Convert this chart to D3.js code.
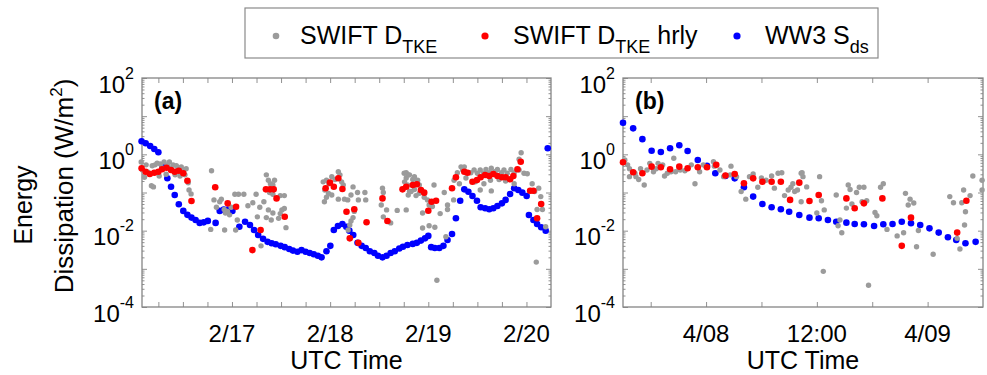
<!DOCTYPE html>
<html><head><meta charset="utf-8">
<script src="https://cdn.jsdelivr.net/npm/d3@7"></script>
<style>
body{margin:0;background:#fff}
svg{display:block}
text{font-family:"Liberation Sans",Arial,Helvetica,sans-serif;fill:#000}
</style>
</head><body>
<svg id="chart" width="987" height="375"></svg>
<script>
// ---------- DATA (hours since start-of-day of first date, value in W/m^2) ----------
// Panel (a): hours since 2/16 00:00 UTC
const aWW3 = [[1.9,2.2],[2.9,1.95],[4.0,1.65],[5.0,1.38],[6.0,1.13],[7.0,0.5],[8.2,0.236],[9.1,0.142],[10.0,0.086],[11.0,0.049],[12.1,0.033],[13.1,0.026],[14.1,0.022],[15.1,0.019],[16.1,0.016],[17.1,0.0165],[18.1,0.018],[20.0,0.016],[21.0,0.033],[22.0,0.036],[23.0,0.036],[24.1,0.033],[25.8,0.0127],[27.2,0.0172],[28.4,0.0141],[29.4,0.0104],[30.4,0.0077],[31.6,0.0061],[32.7,0.0051],[33.7,0.0047],[34.7,0.0044],[35.9,0.0040],[36.9,0.0037],[38.0,0.0033],[38.9,0.0030],[40.0,0.0028],[41.0,0.0031],[42.0,0.0028],[43.0,0.0026],[44.0,0.0024],[45.0,0.0022],[45.9,0.0020],[47.1,0.0029],[48.05,0.0040],[48.9,0.0104],[49.9,0.0133],[51.0,0.0150],[51.95,0.0127],[52.7,0.0100],[53.65,0.0077],[54.7,0.0048],[55.7,0.0040],[56.7,0.0035],[57.7,0.0029],[58.8,0.0026],[59.7,0.0022],[60.8,0.0020],[61.8,0.0022],[62.8,0.0026],[63.8,0.0029],[64.9,0.0034],[65.8,0.0038],[66.9,0.0042],[68.2,0.0045],[69.2,0.0048],[70.2,0.0055],[71.2,0.0063],[72.0,0.0073],[72.7,0.0037],[73.6,0.0035],[74.7,0.0035],[75.7,0.0040],[76.7,0.0057],[77.8,0.0082],[78.75,0.0211],[79.8,0.061],[80.8,0.121],[81.8,0.105],[82.8,0.081],[83.9,0.061],[84.8,0.041],[85.9,0.0386],[86.9,0.0363],[87.9,0.0386],[88.9,0.0443],[90.0,0.052],[90.9,0.064],[92.0,0.091],[93.0,0.129],[94.0,0.116],[95.0,0.099],[96.05,0.081],[96.6,0.0258],[97.7,0.0191],[98.6,0.0150],[99.6,0.0123],[100.7,0.0100],[101.2,1.44]];
const aHourly = [[1.9,0.43],[2.9,0.35],[3.9,0.305],[5.0,0.33],[6.0,0.35],[6.9,0.405],[8.0,0.447],[9.1,0.39],[10.0,0.35],[11.0,0.372],[12.1,0.318],[13.1,0.204],[14.1,0.060],[19.9,0.137],[22.95,0.052],[25.0,0.0425],[29.0,0.0031],[31.0,0.0104],[32.3,0.121],[33.3,0.121],[34.2,0.121],[34.9,0.070],[36.9,0.0232],[46.9,0.129],[47.95,0.181],[48.9,0.142],[50.0,0.236],[51.0,0.124],[52.0,0.0314],[52.8,0.0063],[53.9,0.0363],[54.9,0.0048],[56.9,0.0166],[60.8,0.070],[62.0,0.0179],[65.7,0.121],[66.6,0.142],[68.2,0.157],[69.2,0.164],[70.2,0.116],[71.0,0.099],[72.0,0.0333],[72.8,0.057],[73.9,0.061],[77.8,0.129],[78.75,0.25],[80.8,0.35],[81.6,0.33],[82.8,0.192],[83.9,0.213],[84.8,0.25],[85.9,0.288],[86.9,0.271],[87.9,0.305],[88.9,0.271],[90.0,0.25],[90.9,0.25],[92.0,0.222],[92.8,0.271],[93.8,0.405],[94.6,0.64],[96.9,0.111],[97.7,0.111],[98.6,0.0211],[99.6,0.050]];
const aRaw = [[1.8,0.63],[2.1,0.39],[2.6,0.25],[3.0,0.53],[3.5,0.34],[4.3,0.15],[4.8,0.14],[4.5,0.50],[5.2,0.53],[5.7,0.59],[6.5,0.56],[6.9,0.44],[7.4,0.63],[8.2,0.53],[8.7,0.63],[9.1,0.44],[9.6,0.53],[10.4,0.50],[10.8,0.44],[11.6,0.47],[12.1,0.39],[12.5,0.29],[12.8,0.42],[13.3,0.18],[13.5,0.116],[14.0,0.092],[6.2,0.27],[7.9,0.30],[10.1,0.29],[11.3,0.27],
[19.0,0.37],[18.8,0.0108],[19.6,0.064],[20.2,0.041],[21.0,0.057],[21.4,0.067],[22.1,0.036],[22.4,0.029],[22.9,0.032],[23.4,0.026],[23.8,0.041],[22.2,0.0104],[24.7,0.09],[25.6,0.09],[25.3,0.019],[24.9,0.0104],[26.9,0.09],[27.9,0.045],[29.1,0.054],[29.9,0.09],[30.8,0.041],[30.2,0.023],[31.1,0.0040],[31.8,0.057],[32.4,0.29],[32.9,0.21],[33.4,0.17],[34.0,0.157],[34.4,0.21],[33.2,0.1],[34.0,0.09],[32.9,0.035],[34.0,0.029],[33.6,0.019],[32.4,0.022],[35.8,0.083],[36.8,0.083],[36.2,0.035],[36.8,0.038],[35.8,0.028],[35.4,0.021],[37.2,0.012],
[46.3,0.19],[47.1,0.21],[47.7,0.17],[48.4,0.26],[49.2,0.22],[50.0,0.35],[50.4,0.29],[50.8,0.19],[51.2,0.157],[46.7,0.116],[47.6,0.095],[48.4,0.086],[46.6,0.057],[47.1,0.075],[50.0,0.067],[51.5,0.067],[52.3,0.064],[53.1,0.086],[53.6,0.14],[54.7,0.1],[54.9,0.064],[53.9,0.032],[53.1,0.018],[53.6,0.022],[52.8,0.0141],[52.4,0.0104],[56.5,0.1],[56.7,0.064],
[60.8,0.13],[61.0,0.1],[60.5,0.047],[61.8,0.035],[61.0,0.023],[62.8,0.016],[64.4,0.034],[66.1,0.32],[66.6,0.24],[67.1,0.29],[66.2,0.19],[66.9,0.157],[67.4,0.106],[67.1,0.086],[66.6,0.33],[67.4,0.29],[68.2,0.22],[68.6,0.26],[69.4,0.21],[69.8,0.157],[67.8,0.106],[68.6,0.12],[69.0,0.083],[69.8,0.095],[66.6,0.035],[70.6,0.029],[71.0,0.075],[71.8,0.064],[72.2,0.047],[73.0,0.043],[73.4,0.157],[70.6,0.0117],[72.2,0.0134],[73.6,0.0123],[74.1,0.0005],[74.9,0.028],[75.9,0.1],[76.7,0.047],[76.7,0.036],[76.3,0.0069],[78.2,0.064],
[78.3,0.21],[79.1,0.33],[80.0,0.47],[80.8,0.47],[80.4,0.39],[79.6,0.17],[81.2,0.24],[82.4,0.33],[83.2,0.39],[84.0,0.32],[84.7,0.39],[85.5,0.32],[86.1,0.40],[86.9,0.33],[87.4,0.43],[88.3,0.35],[88.9,0.40],[89.9,0.33],[90.5,0.39],[91.3,0.32],[92.2,0.40],[93.0,0.33],[83.5,0.19],[85.6,0.17],[87.2,0.21],[89.3,0.22],[90.9,0.20],[93.0,0.17],[84.7,0.116],[87.4,0.11],[94.2,0.39],[94.7,1.1],[94.2,0.74],[95.4,0.32],[96.2,0.31],[97.4,0.17],[98.0,0.106],[99.0,0.13],[99.5,0.078],[98.6,0.036],[99.9,0.036],[98.4,0.0015],[100.7,0.0127]];

// Panel (b): hours since 4/07 00:00 UTC
const bWW3 = [[15.0,6.7],[16.1,4.8],[17.1,2.5],[18.1,1.24],[19.1,1.15],[20.1,1.44],[21.1,1.73],[22.0,1.22],[23.1,0.71],[24.1,0.5],[25.0,0.32],[26.1,0.27],[27.1,0.235],[28.1,0.137],[29.1,0.078],[30.1,0.050],[31.1,0.041],[32.1,0.0363],[33.0,0.0314],[34.1,0.0258],[35.2,0.0219],[36.2,0.0211],[37.2,0.0191],[38.1,0.0172],[39.2,0.0162],[40.1,0.0150],[41.1,0.0147],[42.2,0.0133],[43.2,0.0147],[44.2,0.0150],[45.2,0.0172],[46.2,0.0156],[47.2,0.0141],[48.2,0.0115],[49.2,0.0089],[50.2,0.0067],[51.1,0.0057],[52.1,0.0047],[53.2,0.0051]];
const bHourly = [[15.0,0.62],[16.1,0.34],[17.1,0.32],[18.1,0.475],[19.1,0.457],[20.1,0.405],[21.1,0.475],[22.0,0.43],[23.1,0.457],[24.1,0.457],[25.1,0.53],[26.1,0.28],[27.1,0.305],[28.1,0.174],[29.1,0.235],[30.1,0.192],[31.1,0.192],[32.1,0.192],[33.1,0.064],[34.1,0.181],[35.2,0.060],[36.2,0.086],[39.2,0.070],[40.1,0.0386],[41.1,0.052],[43.1,0.070],[45.2,0.0040],[46.2,0.0219],[51.2,0.0089],[52.2,0.061]];
const bRaw = [[15.2,0.71],[15.5,0.53],[15.7,0.42],[15.7,0.26],[16.3,0.32],[16.4,0.26],[16.7,0.22],[16.9,0.42],[17.3,0.157],[17.6,0.39],[17.9,0.58],[18.3,0.35],[18.6,0.42],[18.8,0.58],[19.3,0.53],[19.5,0.27],[19.8,0.32],[20.2,0.35],[20.5,0.79],[20.7,0.35],[21.2,0.39],[21.7,0.37],[22.4,0.53],[22.8,0.17],[23.3,0.35],[23.7,0.53],[24.0,0.47],[24.8,0.64],[24.9,0.49],[25.5,0.39],[25.9,0.26],[26.7,0.49],[26.6,0.29],[27.3,0.26],[27.8,0.106],[28.3,0.067],[28.7,0.26],[29.1,0.305],[29.6,0.137],[30.0,0.24],[30.5,0.21],[31.1,0.27],[31.4,0.13],[31.8,0.32],[32.2,0.33],[32.5,0.083],[32.9,0.116],[33.2,0.137],[33.4,0.17],[33.6,0.106],[33.9,0.116],[34.3,0.32],[34.3,0.057],[34.4,0.33],[34.5,0.26],[34.9,0.14],[36.3,0.26],[36.5,0.061],[36.8,0.035],[36.7,0.00086],[36.0,0.029],[38.1,0.086],[38.5,0.019],[38.3,0.0134],[38.7,0.0088],[39.2,0.039],[39.4,0.157],[39.6,0.12],[39.8,0.050],[40.3,0.1],[40.6,0.137],[40.9,0.057],[41.1,0.137],[41.4,0.061],[41.6,0.00037],[42.3,0.030],[42.5,0.0245],[42.9,0.137],[43.2,0.17],[43.6,0.0108],[45.6,0.095],[45.9,0.047],[46.1,0.067],[46.5,0.053],[44.7,0.0073],[45.4,0.0088],[46.8,0.0038],[47.0,0.0101],[48.6,0.0024],[50.4,0.078],[50.8,0.054],[51.2,0.0063],[51.5,0.0033],[51.7,0.054],[51.9,0.116],[52.1,0.0314],[52.0,0.0141],[52.6,0.083],[52.9,0.27],[53.9,0.21],[53.9,0.116]];

// axis tick data
const aTickHours = [6,12,18,24,30,36,42,48,54,60,66,72,78,84,90,96];
const aLabelHours = [24,48,72,96];
const aTickLabels = ["2/17","2/18","2/19","2/20"];
const bTickHours = [18,24,30,36,42,48];
const bLabelHours = [24,36,48];
const bTickLabels = ["4/08","12:00","4/09"];
const yExponents = [-4,-2,0,2];
const legendLabels = [["SWIFT D","TKE",""],["SWIFT D","TKE"," hrly"],["WW3 S","ds",""]];

// ---------- DRAWING ----------
const svg = d3.select("#chart");
const COL = {raw:"#9b9b9b", hrly:"#ff0000", ww3:"#0000ff"};
const FRAME = "#858585";
const yTop = 78, yBot = 307;
const y = d3.scaleLog().domain([1e-4,1e2]).range([yBot,yTop]);

function panel(cfg){
  const base = cfg.base;
  const toDate = h => new Date(base + h*3600e3);
  const x = d3.scaleUtc().domain([toDate(cfg.h0), toDate(cfg.h1)]).range([cfg.x0, cfg.x1]);
  const g = svg.append("g");
  const minors = [], majors = [];
  for (let e=-4;e<2;e++){ for(let m=2;m<=9;m++) minors.push(m*Math.pow(10,e)); }
  for (let e=-4;e<=2;e++) majors.push(Math.pow(10,e));
  const styleAxis = sel => { sel.select(".domain").remove(); sel.selectAll("line").attr("stroke",FRAME).attr("stroke-width",0.9); sel.selectAll("text").remove(); };
  g.append("g").attr("transform",`translate(${cfg.x0},0)`).call(d3.axisLeft(y).tickValues(minors).tickSize(-2.5)).call(styleAxis);
  g.append("g").attr("transform",`translate(${cfg.x0},0)`).call(d3.axisLeft(y).tickValues(majors).tickSize(-5)).call(styleAxis);
  g.append("g").attr("transform",`translate(${cfg.x1},0)`).call(d3.axisRight(y).tickValues(minors).tickSize(-2.5)).call(styleAxis);
  g.append("g").attr("transform",`translate(${cfg.x1},0)`).call(d3.axisRight(y).tickValues(majors).tickSize(-5)).call(styleAxis);
  const xt = cfg.ticks.map(toDate);
  g.append("g").attr("transform",`translate(0,${yBot})`).call(d3.axisBottom(x).tickValues(xt).tickSize(-5)).call(styleAxis);
  g.append("g").attr("transform",`translate(0,${yTop})`).call(d3.axisTop(x).tickValues(xt).tickSize(-5)).call(styleAxis);
  g.append("rect").attr("x",cfg.x0).attr("y",yTop).attr("width",cfg.x1-cfg.x0).attr("height",yBot-yTop)
    .attr("fill","none").attr("stroke",FRAME).attr("stroke-width",1.3);
  yExponents.forEach(e=>{
    const t = g.append("text").attr("x",cfg.x0-8).attr("y",y(Math.pow(10,e))+14.5)
      .attr("text-anchor","end").attr("font-size",24).text("10");
    t.append("tspan").attr("font-size",16).attr("dy",-14).text(e<0? "-"+Math.abs(e) : String(e));
  });
  cfg.labelHours.forEach((h,i)=>{
    g.append("text").attr("x",x(toDate(h))).attr("y",342).attr("text-anchor","middle")
      .attr("font-size",24).text(cfg.labels[i]);
  });
  g.append("text").attr("x",(cfg.x0+cfg.x1)/2).attr("y",369).attr("text-anchor","middle")
    .attr("font-size",25).text("UTC Time");
  g.append("text").attr("x",cfg.x0+12).attr("y",109).attr("font-size",23).attr("font-weight","bold").text(cfg.tag);
  const dots = (data, color, r) => g.append("g").selectAll("circle").data(data).join("circle")
    .attr("cx",d=>x(toDate(d[0]))).attr("cy",d=>y(d[1])).attr("r",r).attr("fill",color);
  dots(cfg.ww3, COL.ww3, 3.3);
  dots(cfg.raw, COL.raw, 2.7);
  dots(cfg.hrly, COL.hrly, 3.3);
}

panel({base: Date.UTC(2015,1,16), h0:2, h1:102, x0:142, x1:551, ticks:aTickHours, labelHours:aLabelHours, labels:aTickLabels, tag:"(a)", ww3:aWW3, raw:aRaw, hrly:aHourly});
panel({base: Date.UTC(2015,3,7), h0:15, h1:54, x0:623, x1:983, ticks:bTickHours, labelHours:bLabelHours, labels:bTickLabels, tag:"(b)", ww3:bWW3, raw:bRaw, hrly:bHourly});

// y axis title (two lines)
svg.append("text").attr("transform","translate(32,205) rotate(-90)").attr("text-anchor","middle")
  .attr("font-size",25).text("Energy");
const t2 = svg.append("text").attr("transform","translate(73,186) rotate(-90)").attr("text-anchor","middle")
  .attr("font-size",26).text("Dissipation (W/m");
t2.append("tspan").attr("font-size",17).attr("dy",-11).text("2");
t2.append("tspan").attr("dy",11).text(")");

// legend
const lg = svg.append("g");
lg.append("rect").attr("x",245).attr("y",8).attr("width",633).attr("height",50)
  .attr("fill","#fff").attr("stroke","#8a8a8a").attr("stroke-width",1.2);
const legCols = [COL.raw, COL.hrly, COL.ww3];
const markX = [276, 485, 737], textX = [300, 513, 765];
legendLabels.forEach((lab,i)=>{
  lg.append("circle").attr("cx",markX[i]).attr("cy",36).attr("r",i===0?3.3:3.6).attr("fill",legCols[i]);
  const t = lg.append("text").attr("x",textX[i]).attr("y",44).attr("font-size",25).text(lab[0]);
  t.append("tspan").attr("font-size",18).attr("dy",9).text(lab[1]);
  if (lab[2]) t.append("tspan").attr("dy",-9).text(lab[2]);
});
</script>
</body></html>
